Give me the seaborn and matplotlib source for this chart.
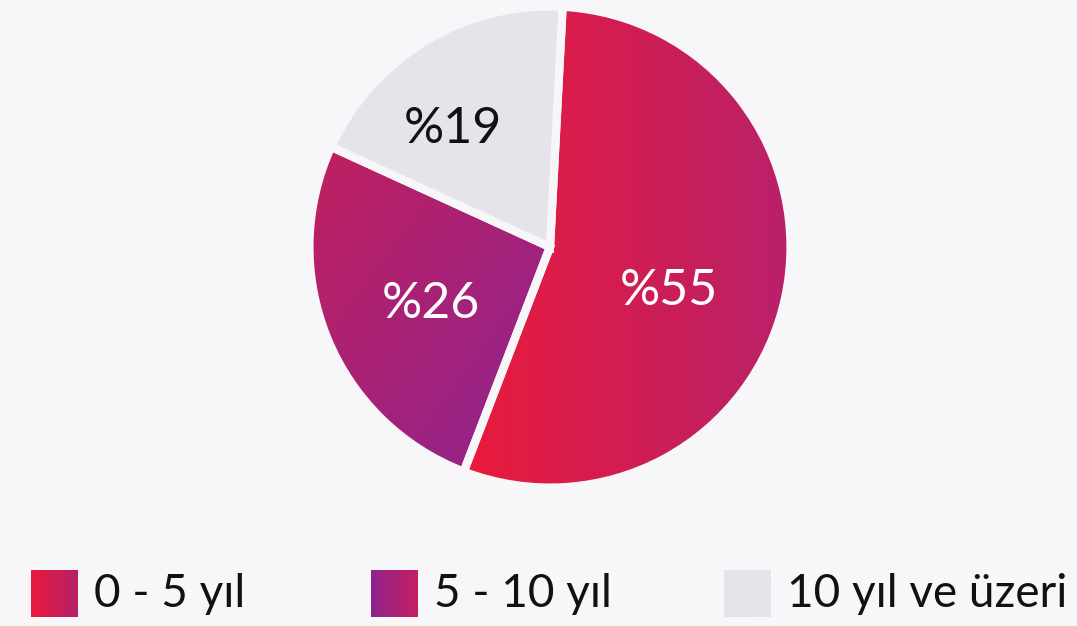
import numpy as np
import matplotlib
matplotlib.use("Agg")
import matplotlib.pyplot as plt
import matplotlib.colors as mcolors
import seaborn as sns

# Data
categories = ["0 - 5 yıl", "5 - 10 yıl", "10 yıl ve üzeri"]
shares = [55, 26, 19]
pct_labels = ["%55", "%26", "%19"]

bg = "#F7F7F9"
# gradient end colours per slice (None = flat)
grad_from = ["#EA1A3C", "#C0205F", None]
grad_to = ["#B8216A", "#8E2490", None]
flat = [None, None, "#E4E4EA"]
legend_from = ["#EA1A3C", "#8E2490", "#E4E4EA"]
legend_to = ["#B52169", "#C4205F", "#E4E4EA"]
text_colors = ["white", "white", "#111111"]
# label radius and angular nudge from slice middle (degrees)
label_r = [0.52, 0.54, 0.65]
label_shift = [-6.5, 1.5, 7]

sns.set_theme(style="white")
plt.rcParams["font.family"] = ["Lato", "DejaVu Sans"]
plt.rcParams["figure.facecolor"] = bg
plt.rcParams["axes.facecolor"] = bg

fig = plt.figure(figsize=(10.77, 6.26), dpi=100)
ax = fig.add_axes([0.2906, 0.2268, 0.4401, 0.7572])
ax.set_facecolor(bg)

wedges, _ = ax.pie(shares, startangle=87, counterclock=False, radius=1,
                   wedgeprops=dict(edgecolor=bg, linewidth=6, zorder=2))


def gradient_img(c0, c1, direction):
    n = 256
    t = np.linspace(0, 1, n)
    if direction == "h":
        g = np.tile(t, (n, 1))
    else:  # diagonal, top-left -> bottom-right
        xx, yy = np.meshgrid(t, t)
        g = (xx + yy) / 2
    cmap = mcolors.LinearSegmentedColormap.from_list("g", [c0, c1])
    return cmap(g)


for i, w in enumerate(wedges):
    if flat[i] is not None:
        w.set_facecolor(flat[i])
        continue
    w.set_facecolor("none")
    ext = w.get_path().get_extents()
    img = gradient_img(grad_from[i], grad_to[i], "h" if i == 0 else "d")
    im = ax.imshow(img, extent=(ext.x0, ext.x1, ext.y0, ext.y1),
                   origin="upper", zorder=1, aspect="auto")
    im.set_clip_path(w)

for i, w in enumerate(wedges):
    mid = np.deg2rad((w.theta1 + w.theta2) / 2 + label_shift[i])
    ax.text(label_r[i] * np.cos(mid), label_r[i] * np.sin(mid), pct_labels[i],
            ha="center", va="center_baseline", fontsize=36,
            color=text_colors[i], zorder=3)

ax.set_xlim(-0.985, 0.985)
ax.set_ylim(-0.985, 0.985)
ax.set_aspect("auto")
ax.axis("off")

# Legend with gradient swatches
sw_x = [31, 371, 724]
for i, cat in enumerate(categories):
    sax = fig.add_axes([sw_x[i] / 1077, (626 - 617) / 626, 47 / 1077, 47 / 626])
    sax.imshow(gradient_img(legend_from[i], legend_to[i], "h"), aspect="auto")
    sax.axis("off")
    fig.text((sw_x[i] + 63) / 1077, (626 - 594) / 626, cat, ha="left",
             va="center", fontsize=33, color="#111111")

fig.savefig("out.png", dpi=100, facecolor=bg)
